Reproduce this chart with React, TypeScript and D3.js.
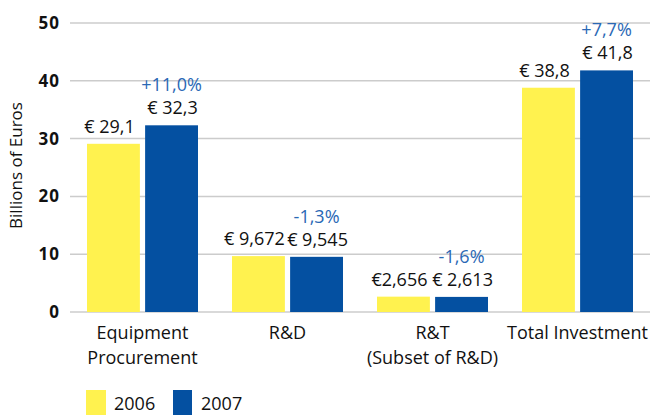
import * as d3 from "d3";

// values (billions of euros)
const categories = ["Equipment Procurement", "R&D", "R&T (Subset of R&D)", "Total Investment"];
const categoryLines = [["Equipment", "Procurement"], ["R&D"], ["R&T", "(Subset of R&D)"], ["Total Investment"]];
const years = ["2006", "2007"];
const values2006 = [29.1, 9.672, 2.656, 38.8];
const values2007 = [32.3, 9.545, 2.613, 41.8];
const labels2006 = ["€ 29,1", "€ 9,672", "€2,656", "€ 38,8"];
const labels2007 = ["€ 32,3", "€ 9,545", "€ 2,613", "€ 41,8"];
const changeLabels = ["+11,0%", "-1,3%", "-1,6%", "+7,7%"];
const yTicks = [0, 10, 20, 30, 40, 50];

const width = 650;
const height = 415;
const margin = { top: 23, right: 0, bottom: 103, left: 70 };

const yellow = "#fff24f";
const blue = "#0450a1";
const pctBlue = "#2a68b5";
const font = "'Open Sans', sans-serif";

export default function App() {
  const innerBottom = height - margin.bottom;

  const x0 = d3.scaleBand(categories, [margin.left, width - margin.right]).padding(0);
  const x1 = d3.scaleBand(years, [17, x0.bandwidth() - 17]).paddingInner(0.09);
  const y = d3.scaleLinear([0, 50], [innerBottom, margin.top]);

  const series = [values2006, values2007];
  const seriesLabels = [labels2006, labels2007];
  const colors = [yellow, blue];
  const labelShift = [-4, 1]; // labels sit slightly apart from the bar centres

  return (
    <svg width={width} height={height} style={{ position: "absolute", left: 0, top: 0 }} fontFamily={font}>
      {/* gridlines */}
      {yTicks.map(t => (
        <line key={t} x1={margin.left} x2={width} y1={y(t)} y2={y(t)} stroke="#cccccc" strokeWidth={1.5} />
      ))}
      {yTicks.map(t => (
        <text key={"l" + t} x={60} y={y(t)} dy="0.35em" textAnchor="end" fontWeight="bold" fontSize={17} letterSpacing={1} fill="#111">
          {t}
        </text>
      ))}
      <text transform={`translate(22, ${(margin.top + innerBottom) / 2 - 2}) rotate(-90)`} textAnchor="middle" fontSize={17} fill="#111">
        Billions of Euros
      </text>

      {categories.map((c, i) => (
        <g key={c} transform={`translate(${x0(c)},0)`}>
          {years.map((yr, s) => {
            const v = series[s][i];
            const bx = x1(yr)!;
            return (
              <g key={yr}>
                <rect x={bx} y={y(v)} width={x1.bandwidth()} height={innerBottom - y(v)} fill={colors[s]} />
                <text x={bx + x1.bandwidth() / 2 + labelShift[s]} y={y(v) - 11} textAnchor="middle" fontSize={18} fill="#111">
                  {seriesLabels[s][i]}
                </text>
              </g>
            );
          })}
          <text
            x={x1("2007")! + x1.bandwidth() / 2}
            y={y(values2007[i]) - 34}
            textAnchor="middle"
            fontSize={18}
            fill={pctBlue}
          >
            {changeLabels[i]}
          </text>
          {categoryLines[i].map((ln, k) => (
            <text key={ln} x={x0.bandwidth() / 2} y={339 + k * 25} textAnchor="middle" fontSize={18} fill="#111">
              {ln}
            </text>
          ))}
        </g>
      ))}

      {/* legend */}
      {years.map((yr, s) => (
        <g key={yr} transform={`translate(${86 + s * 87}, 390)`}>
          <rect x={0} y={0} width={s === 0 ? 20 : 19} height={25} fill={colors[s]} />
          <text x={28} y={20} fontSize={18} fill="#111">
            {yr}
          </text>
        </g>
      ))}
    </svg>
  );
}
